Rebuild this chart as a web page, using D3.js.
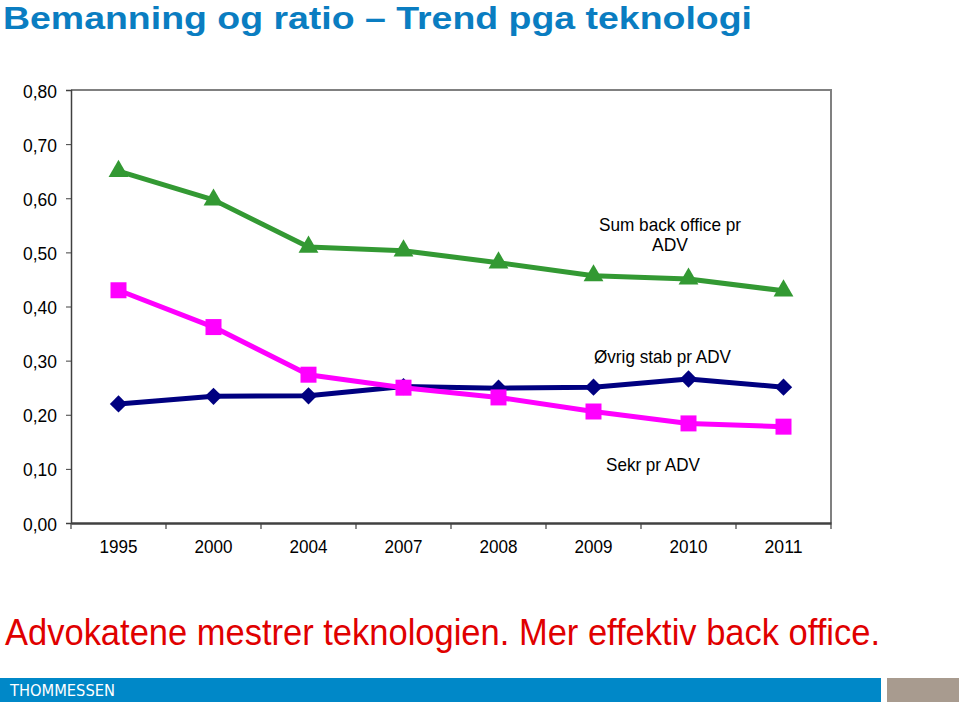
<!DOCTYPE html>
<html><head><meta charset="utf-8">
<script src="https://cdn.jsdelivr.net/npm/d3@7"></script>
<style>body{margin:0;background:#fff}svg{display:block}</style>
</head><body>
<svg id="c" width="960" height="705"></svg>
<script>
const years = ["1995","2000","2004","2007","2008","2009","2010","2011"];
const sumBackOffice = [0.65,0.597,0.51,0.503,0.481,0.457,0.451,0.429];
const sekr = [0.43,0.362,0.274,0.25,0.232,0.206,0.184,0.178];
const ovrig = [0.22,0.234,0.235,0.252,0.249,0.251,0.266,0.251];
const yTicks = [0,0.1,0.2,0.3,0.4,0.5,0.6,0.7,0.8];
const seriesNames = ["Sum back office pr ADV","Øvrig stab pr ADV","Sekr pr ADV"];

const svg = d3.select("#c");
const L=71,R=831,T=90,B=523;
const x = d3.scaleBand().domain(years).range([L,R]);
const y = d3.scaleLinear().domain([0,0.8]).range([B,T]);
const font = "'Liberation Sans', Arial, sans-serif";

// Title
svg.append("text").attr("x",3).attr("y",29).attr("fill","#0a7dc1")
  .attr("font-family",font).attr("font-weight","bold").attr("font-size",32)
  .attr("textLength",749).attr("lengthAdjust","spacingAndGlyphs")
  .text("Bemanning og ratio – Trend pga teknologi");

// plot frame (top & right)
svg.append("path").attr("d",`M${L},${T}H${R}V${B}`).attr("fill","none").attr("stroke","#808080").attr("stroke-width",2);

// y axis
const ya = svg.append("g").attr("transform",`translate(${L},0)`)
  .call(d3.axisLeft(y).tickValues(yTicks).tickSize(5).tickFormat(d=>d3.format(".2f")(d).replace(".",",")));
ya.select(".domain").attr("stroke","#404040").attr("stroke-width",1.5);
ya.selectAll(".tick line").attr("stroke","#404040");
ya.selectAll("text").attr("font-family",font).attr("font-size",18).attr("fill","#000")
  .attr("x",-14).attr("dy",null).attr("y",7).attr("textLength",34).attr("lengthAdjust","spacingAndGlyphs");

// x axis
const xa = svg.append("g").attr("transform",`translate(0,${B})`)
  .call(d3.axisBottom(x).tickSize(0).tickSizeOuter(0));
xa.select(".domain").attr("stroke","#404040").attr("stroke-width",2.5);
xa.selectAll(".tick text").attr("font-family",font).attr("font-size",18.5).attr("fill","#000")
  .attr("dy",null).attr("y",30).attr("textLength",38).attr("lengthAdjust","spacingAndGlyphs");
// band boundary ticks
const bounds = years.map(d=>x(d)).concat([R]);
svg.append("g").selectAll("line").data(bounds).join("line")
  .attr("x1",d=>d).attr("x2",d=>d).attr("y1",B).attr("y2",B+6).attr("stroke","#404040").attr("stroke-width",1.2);

const cx = d=>x(d)+x.bandwidth()/2;
const line = d3.line().x((v,i)=>cx(years[i])).y(v=>y(v));

function drawSeries(vals,color,sym,size,rot){
  const g = svg.append("g");
  g.append("path").attr("d",line(vals)).attr("fill","none").attr("stroke",color).attr("stroke-width",5).attr("stroke-linejoin","round");
  g.selectAll("path.m").data(vals).join("path").attr("class","m")
    .attr("d",d3.symbol().type(sym).size(size))
    .attr("transform",(v,i)=>`translate(${cx(years[i])},${y(v)}) rotate(${rot||0})`)
    .attr("fill",color);
}
drawSeries(sumBackOffice,"#339933",d3.symbolTriangle,170);
drawSeries(ovrig,"#000080",d3.symbolSquare,150,45);
drawSeries(sekr,"#ff00ff",d3.symbolSquare,256);

// series labels
const lab = (t,xx,yy,w)=>svg.append("text").attr("x",xx).attr("y",yy).attr("text-anchor","middle")
  .attr("font-family",font).attr("font-size",19).attr("fill","#000")
  .attr("textLength",w).attr("lengthAdjust","spacingAndGlyphs").text(t);
lab("Sum back office pr",670,231,142);
lab("ADV",670,251,36);
lab(seriesNames[1],662.5,363,137);
lab(seriesNames[2],653,471,94);

// subtitle
svg.append("text").attr("x",5).attr("y",645).attr("fill","#e00000")
  .attr("font-family",font).attr("font-size",36)
  .attr("textLength",875).attr("lengthAdjust","spacingAndGlyphs")
  .text("Advokatene mestrer teknologien. Mer effektiv back office.");

// footer
svg.append("rect").attr("x",0).attr("y",678).attr("width",881).attr("height",24).attr("fill","#0088c8");
svg.append("rect").attr("x",887).attr("y",678).attr("width",72).attr("height",24).attr("fill","#a89b8f");
svg.append("text").attr("x",10).attr("y",696).attr("fill","#fff").attr("font-family","'DejaVu Sans Condensed','Liberation Sans Narrow',sans-serif")
  .attr("font-weight","300").attr("font-size",15).attr("textLength",105).attr("lengthAdjust","spacingAndGlyphs").text("THOMMESSEN");
</script>
</body></html>
